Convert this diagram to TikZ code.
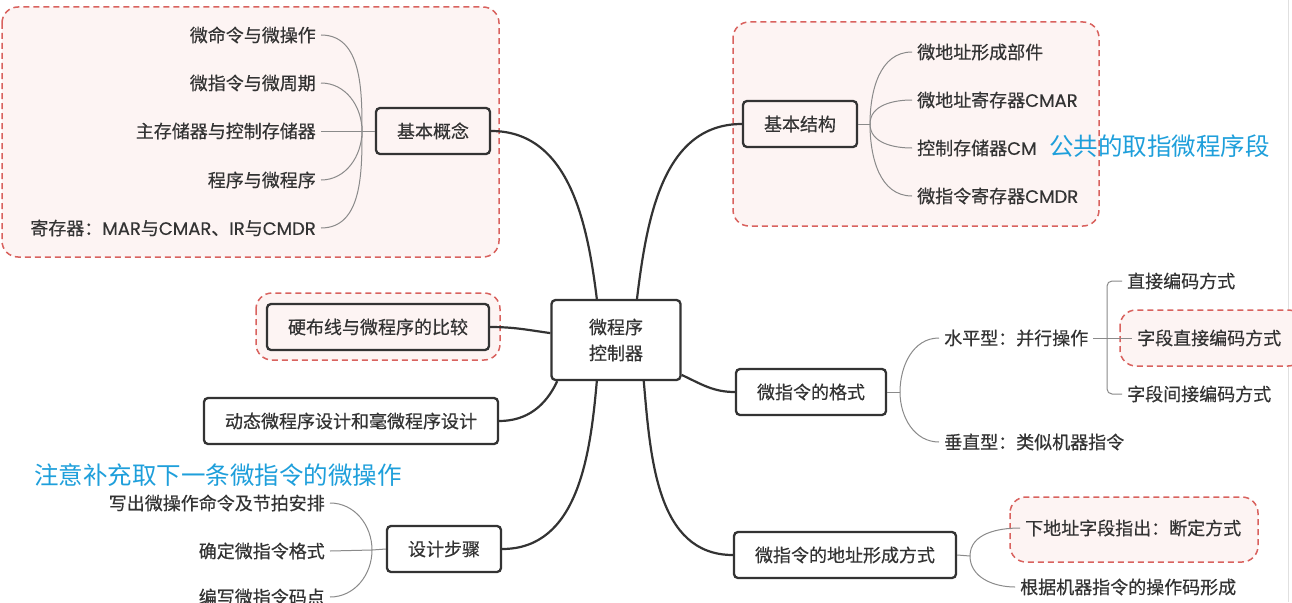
\documentclass[tikz,border=0pt]{standalone}
\usepackage{fontspec}
\setmainfont{Noto Sans CJK SC}[FakeBold=0.5]
\newfontfamily\notefont{Noto Sans CJK SC}
\newfontfamily\latin{Poppins}[FakeBold=0.4]
\newcommand{\lat}[1]{{\latin #1}}

\definecolor{ink}{HTML}{333333}
\definecolor{twiggray}{HTML}{8A8A8A}
\definecolor{zonered}{HTML}{D9625E}
\definecolor{zonefill}{HTML}{FDF4F3}
\definecolor{noteblue}{HTML}{1E9FDB}

\tikzset{
	topic/.style={draw=ink, line width=2.3pt, rounded corners=4pt, fill=white, text=ink, font=\fontsize{18}{26}\selectfont, inner xsep=21pt, minimum height=46pt},
	leaf/.style={text=ink, font=\fontsize{18}{22}\selectfont, inner xsep=5pt, inner ysep=1pt},
	zone/.style={draw=zonered, fill=zonefill, line width=1.5pt, dash pattern=on 6pt off 4pt, rounded corners=16pt},
	branch/.style={draw=ink, line width=2.2pt},
	twig/.style={draw=twiggray, line width=1pt},
	note/.style={text=noteblue, font=\notefont\fontsize{24.5}{28}\selectfont, inner sep=0pt},
}

\begin{document}
\begin{tikzpicture}[x=1pt, y=-1pt]
		%%%%% START %%%%%
		\useasboundingbox (0,0) rectangle (1292,602);
		\fill[white] (0,0) rectangle (1292,602);
		\draw[line width=1pt, color=black!12] (1288,0) -- (1288,602);
		
		% dashed zones
		\draw[zone] (2,7) rectangle (499,257);
		\draw[zone] (733,22) rectangle (1099,226);
		\draw[zone] (256,293) rectangle (500,360);
		\draw[zone] (1120,310) rectangle (1304,366);
		\draw[zone] (1010,497) rectangle (1258,562);
		
		% topics
		\node[topic, minimum width=129pt, minimum height=80pt, align=center] (mpc) at (616,340) {微程序\\控制器};
		\node[topic, fill=zonefill] (concept) at (433,131) {基本概念};
		\node[topic, fill=zonefill] (structure) at (800,124) {基本结构};
		\node[topic, fill=zonefill] (compare) at (378,327) {硬布线与微程序的比较};
		\node[topic] (dynamic) at (351,421) {动态微程序设计和毫微程序设计};
		\node[topic] (steps) at (444,549) {设计步骤};
		\node[topic] (format) at (811,392) {微指令的格式};
		\node[topic] (addr) at (845,555) {微指令的地址形成方式};
		
		% main branches
		\draw[branch] (mpc.115) to[out=97,in=0] (concept.east);
		\draw[branch] (mpc.63) to[out=83,in=180] (structure.west);
		\draw[branch] (mpc.174) to[out=172,in=0] (compare.east);
		\draw[branch] (mpc.-145) to[out=-115,in=0] (dynamic.east);
		\draw[branch] (mpc.-115) to[out=-95,in=0] (steps.east);
		\draw[branch] (mpc.-28) to[out=-25,in=180] (format.west);
		\draw[branch] (mpc.-56) to[out=-85,in=180] (addr.west);
		
		% basic concepts
		\node[leaf, anchor=east] (c1) at (321,35) {微命令与微操作};
		\node[leaf, anchor=east] (c2) at (321,83) {微指令与微周期};
		\node[leaf, anchor=east] (c3) at (321,131) {主存储器与控制存储器};
		\node[leaf, anchor=east] (c4) at (321,180) {程序与微程序};
		\node[leaf, anchor=east] (c5) at (321,228) {寄存器：\lat{MAR}与\lat{CMAR}、\lat{IR}与\lat{CMDR}};
		\coordinate (cj) at (362,131);
		\draw[twig] (cj) -- (concept.west);
		\draw[twig] (c1.east) to[out=0,in=90] (cj);
		\draw[twig] (c2.east) to[out=0,in=90] (cj);
		\draw[twig] (c3.east) -- (cj);
		\draw[twig] (c4.east) to[out=0,in=-90] (cj);
		\draw[twig] (c5.east) to[out=0,in=-90] (cj);
		
		% basic structure
		\node[leaf, anchor=west] (s1) at (912,52) {微地址形成部件};
		\node[leaf, anchor=west] (s2) at (912,100) {微地址寄存器\lat{CMAR}};
		\node[leaf, anchor=west] (s3) at (912,148) {控制存储器\lat{CM}};
		\node[leaf, anchor=west] (s4) at (912,196) {微指令寄存器\lat{CMDR}};
		\coordinate (sj) at (870,124);
		\draw[twig] (structure.east) -- (sj);
		\draw[twig] (sj) to[out=90,in=180] (s1.west);
		\draw[twig] (sj) to[out=90,in=180] (s2.west);
		\draw[twig] (sj) to[out=-90,in=180] (s3.west);
		\draw[twig] (sj) to[out=-90,in=180] (s4.west);
		\node[note, anchor=west] (fetch) at (1049,146) {公共的取指微程序段};
		
		% design steps
		\node[note, anchor=west] (hint) at (34,475) {注意补充取下一条微指令的微操作};
		\node[leaf, anchor=east] (d1) at (330,503) {写出微操作命令及节拍安排};
		\node[leaf, anchor=east] (d2) at (330,551) {确定微指令格式};
		\node[leaf, anchor=east] (d3) at (330,597) {编写微指令码点};
		\coordinate (dj) at (372,550);
		\draw[twig] (dj) -- (steps.west);
		\draw[twig] (d1.east) to[out=0,in=90] (dj);
		\draw[twig] (d2.east) -- (dj);
		\draw[twig] (d3.east) to[out=0,in=-90] (dj);
		
		% microinstruction format
		\node[leaf, anchor=west] (horiz) at (939,338) {水平型：并行操作};
		\node[leaf, anchor=west] (vert) at (939,442) {垂直型：类似机器指令};
		\coordinate (fj) at (900,392);
		\draw[twig] (format.east) -- (fj);
		\draw[twig] (fj) to[out=90,in=180] (horiz.west);
		\draw[twig] (fj) to[out=-90,in=180] (vert.west);
		\node[leaf, anchor=west] (h1) at (1122,281) {直接编码方式};
		\node[leaf, anchor=west] (h2) at (1132,338) {字段直接编码方式};
		\node[leaf, anchor=west] (h3) at (1122,394) {字段间接编码方式};
		\draw[twig, rounded corners=5pt] (h1.west) -| (1107,338) |- (h3.west);
		\draw[twig] (horiz.east) -- (h2.west);
		
		% address forming
		\node[leaf, anchor=west] (a1) at (1020,528) {下地址字段指出：断定方式};
		\node[leaf, anchor=west] (a2) at (1015,587) {根据机器指令的操作码形成};
		\coordinate (aj) at (970,556);
		\draw[twig] (addr.east) -- (aj);
		\draw[twig] (aj) to[out=90,in=180] (a1.west);
		\draw[twig] (aj) to[out=-90,in=180] (a2.west);
		
		%%%%% END %%%%%
\end{tikzpicture}
\end{document}
